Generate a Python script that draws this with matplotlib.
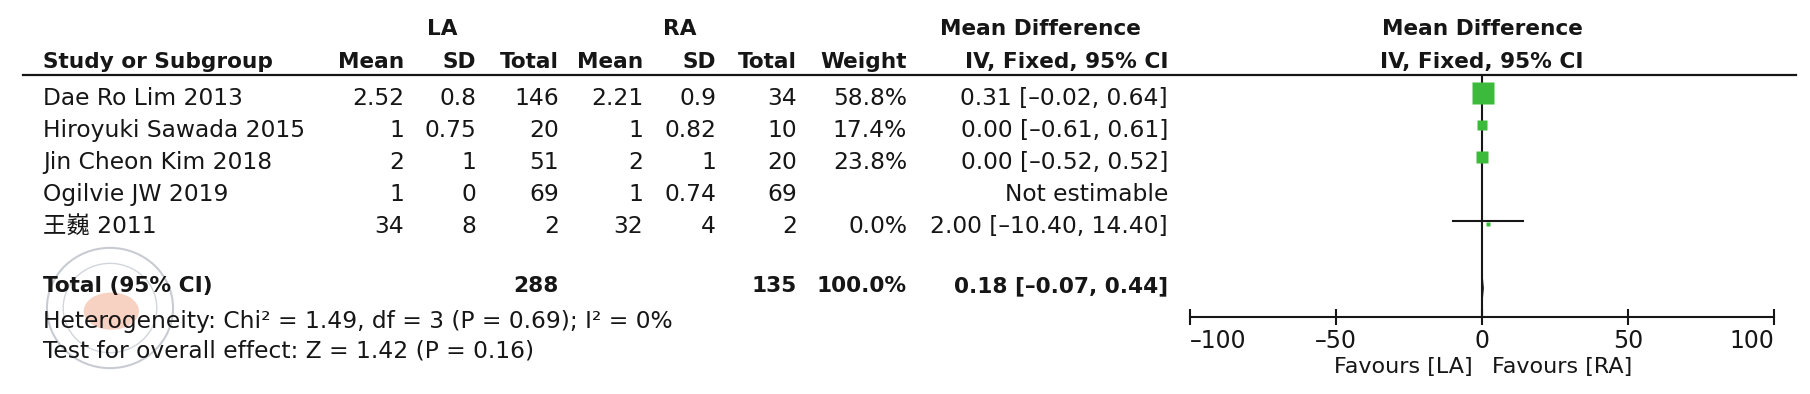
import matplotlib
matplotlib.use("Agg")
import matplotlib.pyplot as plt
from matplotlib.patches import Polygon, Circle, Ellipse

plt.rcParams['font.family'] = ['DejaVu Sans', 'Noto Sans CJK SC']

# ---- data ----
studies = ["Dae Ro Lim 2013", "Hiroyuki Sawada 2015", "Jin Cheon Kim 2018",
           "Ogilvie JW 2019", "王巍 2011"]
la_mean = [2.52, 1, 2, 1, 34]
la_sd = [0.8, 0.75, 1, 0, 8]
la_n = [146, 20, 51, 69, 2]
ra_mean = [2.21, 1, 2, 1, 32]
ra_sd = [0.9, 0.82, 1, 0.74, 4]
ra_n = [34, 10, 20, 69, 2]
weight = [58.8, 17.4, 23.8, None, 0.0]
md = [0.31, 0.00, 0.00, None, 2.00]
ci_lo = [-0.02, -0.61, -0.52, None, -10.40]
ci_hi = [0.64, 0.61, 0.52, None, 14.40]

total_la_n = 288
total_ra_n = 135
total_weight = 100.0
total_md = 0.18
total_lo = -0.07
total_hi = 0.44
heterogeneity = "Heterogeneity: Chi² = 1.49, df = 3 (P = 0.69); I² = 0%"
overall = "Test for overall effect: Z = 1.42 (P = 0.16)"

xticks = [-100, -50, 0, 50, 100]
xtick_labels = ["–100", "–50", "0", "50", "100"]

# ---- layout (pixels) ----
W, H = 1810, 394
FS = 16.8
FSB = 15.6
TXT = '#161616'
GREEN = '#3cba3c'


def fx(x):
    return x / W


def fy(y):
    return 1 - y / H


def num(v):
    return '{:g}'.format(v)


def ci_str(m, lo, hi):
    return '{:.2f} [{:.2f}, {:.2f}]'.format(m, lo, hi).replace('-', '–')


fig = plt.figure(figsize=(W / 100, H / 100), dpi=100)

# faint watermark seal behind the footer text
wm = fig.add_axes([fx(45), fy(370), fx(130), 124 / H])
wm.set_xlim(-1, 1)
wm.set_ylim(-1, 1)
wm.axis('off')
wm.add_patch(Circle((0, 0), 0.97, fill=False, ec='#c8ccd2', lw=1.5))
wm.add_patch(Circle((0, 0), 0.72, fill=False, ec='#d2d6dc', lw=1.0))
wm.add_patch(Ellipse((0.02, -0.05), 0.85, 0.6, fc='#f2b49a', ec='none', alpha=0.6))

# column headers
col_x = {'la_mean': 404, 'la_sd': 476, 'la_n': 559, 'ra_mean': 643,
         'ra_sd': 716, 'ra_n': 797, 'weight': 907, 'ci': 1168}
hb1, hb2 = 35, 68
bold = dict(fontsize=FSB, fontweight='bold', color=TXT)
fig.text(fx(442), fy(hb1), 'LA', ha='center', va='baseline', **bold)
fig.text(fx(680), fy(hb1), 'RA', ha='center', va='baseline', **bold)
fig.text(fx(1040), fy(hb1), 'Mean Difference', ha='center', va='baseline', **bold)
fig.text(fx(1482), fy(hb1), 'Mean Difference', ha='center', va='baseline', **bold)
fig.text(fx(43), fy(hb2), 'Study or Subgroup', ha='left', va='baseline', **bold)
for key, lab in [('la_mean', 'Mean'), ('la_sd', 'SD'), ('la_n', 'Total'),
                 ('ra_mean', 'Mean'), ('ra_sd', 'SD'), ('ra_n', 'Total'),
                 ('weight', 'Weight'), ('ci', 'IV, Fixed, 95% CI')]:
    fig.text(fx(col_x[key]), fy(hb2), lab, ha='right', va='baseline', **bold)
fig.text(fx(1482), fy(hb2), 'IV, Fixed, 95% CI', ha='center', va='baseline', **bold)

# header rule
fig.add_artist(plt.Line2D([fx(23), fx(1796)], [fy(75), fy(75)], color=TXT, lw=1.6))

# study rows
norm = dict(fontsize=FS, color=TXT, va='baseline')
for i, name in enumerate(studies):
    b = 105 + 32 * i
    fig.text(fx(43), fy(b), name, ha='left', **norm)
    cells = [('la_mean', num(la_mean[i])), ('la_sd', num(la_sd[i])), ('la_n', str(la_n[i])),
             ('ra_mean', num(ra_mean[i])), ('ra_sd', num(ra_sd[i])), ('ra_n', str(ra_n[i]))]
    if weight[i] is not None:
        cells.append(('weight', '{:.1f}%'.format(weight[i])))
        cells.append(('ci', ci_str(md[i], ci_lo[i], ci_hi[i])))
    else:
        cells.append(('ci', 'Not estimable'))
    for key, s in cells:
        fig.text(fx(col_x[key]), fy(b), s, ha='right', **norm)

# total row
tb = 292
fig.text(fx(43), fy(tb), 'Total (95% CI)', ha='left', va='baseline', **bold)
fig.text(fx(col_x['la_n']), fy(tb), str(total_la_n), ha='right', va='baseline', **bold)
fig.text(fx(col_x['ra_n']), fy(tb), str(total_ra_n), ha='right', va='baseline', **bold)
fig.text(fx(col_x['weight']), fy(tb), '{:.1f}%'.format(total_weight), ha='right', va='baseline', **bold)
fig.text(fx(col_x['ci']), fy(tb), ci_str(total_md, total_lo, total_hi), ha='right', va='baseline', **bold)
fig.text(fx(43), fy(328), heterogeneity, ha='left', **norm)
fig.text(fx(43), fy(358), overall, ha='left', **norm)

# ---- forest plot ----
ax = fig.add_axes([fx(1190), fy(317), fx(1774 - 1190), (317 - 75) / H])
total_row = 6.1
ax.set_xlim(-100, 100)
ax.set_ylim((317 - 93) / 32, (75 - 93) / 32)
ax.axvline(0, color=TXT, lw=1.5, zorder=2)
for i in range(len(studies)):
    if md[i] is None:
        continue
    ax.plot([ci_lo[i], ci_hi[i]], [i, i], color=TXT, lw=1.5, zorder=2, solid_capstyle='butt')
    side = max(23 * (weight[i] / 58.8) ** 0.75, 4)
    ax.plot(md[i], i + (0.1 if weight[i] == 0 else 0), marker='s', ms=side * 0.72,
            mfc=GREEN, mec='none', ls='none', zorder=3)
dh = 9 / 32
ax.add_patch(Polygon([(total_lo, total_row), (total_md, total_row - dh),
                      (total_hi, total_row), (total_md, total_row + dh)],
                     closed=True, fc=TXT, ec=TXT, lw=0.8, zorder=4))
for s in ['top', 'left', 'right']:
    ax.spines[s].set_visible(False)
ax.spines['bottom'].set_linewidth(1.5)
ax.spines['bottom'].set_color(TXT)
ax.set_yticks([])
ax.set_xticks(xticks)
ax.set_xticklabels(xtick_labels, fontsize=17, color=TXT)
labels = ax.get_xticklabels()
labels[0].set_ha('left')
labels[-1].set_ha('right')
ax.tick_params(axis='x', direction='inout', length=12, width=1.5, color=TXT, pad=3)
ax.patch.set_alpha(0)

fig.text(fx(1473), fy(373), 'Favours [LA]', ha='right', va='baseline', fontsize=16, color=TXT)
fig.text(fx(1492), fy(373), 'Favours [RA]', ha='left', va='baseline', fontsize=16, color=TXT)

fig.savefig('out.png', dpi=100)
